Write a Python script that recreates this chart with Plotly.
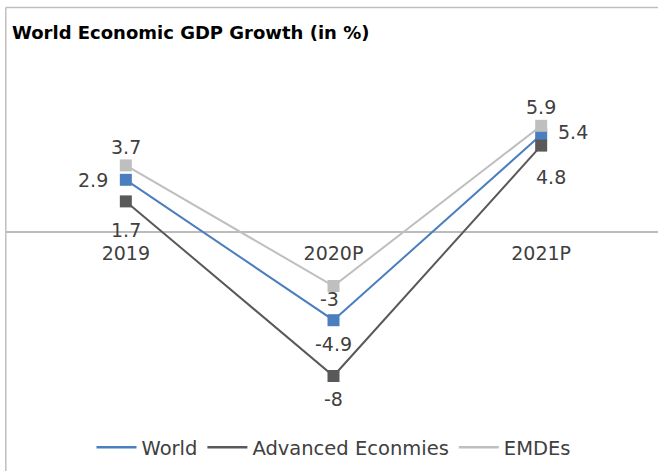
import plotly.graph_objects as go

# GDP growth by region, in percent
years = ["2019", "2020P", "2021P"]
world = [2.9, -4.9, 5.4]
advanced = [1.7, -8, 4.8]
emdes = [3.7, -3, 5.9]

series_names = ["World", "Advanced Econmies", "EMDEs"]
colors = ["#4a7ebf", "#595959", "#bfbfbf"]
# label offsets (px) from each point: (xshift, yshift)
label_shift = [
    [(-33, 0), (0, -24), (32, 3)],
    [(0, -29), (0, -23), (10, -31)],
    [(0, 18), (-4, -13), (0, 19)],
]

font_family = "'DejaVu Sans', sans-serif"
text_color = "#404040"
label_size = 19

fig = go.Figure()
for name, vals, col, shifts in zip(series_names, [world, advanced, emdes], colors, label_shift):
    fig.add_trace(go.Scatter(
        x=years, y=vals, name=name, showlegend=False,
        mode="lines+markers",
        line=dict(color=col, width=2),
        marker=dict(symbol="square", size=12, color=col),
        cliponaxis=False,
    ))
    # value labels, positioned by category index
    for i, (v, (dx, dy)) in enumerate(zip(vals, shifts)):
        fig.add_annotation(x=i, y=v, text=f"{v:g}", showarrow=False,
                           xshift=dx, yshift=dy,
                           font=dict(size=label_size, color=text_color, family=font_family))

# line-only legend entries
for name, col in zip(series_names, colors):
    fig.add_trace(go.Scatter(x=[None], y=[None], name=name, mode="lines",
                             line=dict(color=col, width=2.5)))

# horizontal zero axis line across the chart
fig.add_shape(type="line", xref="paper", yref="y", x0=-0.026, x1=1.03, y0=0, y1=0,
              line=dict(color="#a6a6a6", width=1.5), layer="below")
# chart frame
fig.add_shape(type="line", xref="paper", yref="paper", x0=-0.026, x1=1.03, y0=1.1236, y1=1.1236,
              line=dict(color="#bfbfbf", width=1.5))
fig.add_shape(type="line", xref="paper", yref="paper", x0=-0.026, x1=-0.026, y0=1.1236, y1=-0.2,
              line=dict(color="#bfbfbf", width=1.5))

fig.update_layout(
    width=658, height=471,
    margin=dict(l=22, r=13, t=52, b=59, autoexpand=False),
    paper_bgcolor="white", plot_bgcolor="white",
    font=dict(family=font_family, color=text_color),
    title=dict(text="<b>World Economic GDP Growth (in %)</b>", x=12 / 658, xanchor="left",
               y=1 - 33 / 471, yanchor="middle",
               font=dict(size=18, color="#000000", family=font_family)),
    showlegend=True,
    legend=dict(orientation="h", x=0.5, xanchor="center", y=-(447 - 411.5) / 360,
                yanchor="middle", font=dict(size=19.5, color=text_color), itemwidth=40),
    xaxis=dict(type="category", range=[-0.5, 2.5], showgrid=False, zeroline=False,
               showline=False, anchor="free", position=0.5, ticks="",
               tickfont=dict(size=label_size, color=text_color), ticklabelstandoff=8),
    yaxis=dict(range=[-10, 10], showgrid=False, zeroline=False, showticklabels=False,
               showline=False),
)

fig.write_html("out.html")
